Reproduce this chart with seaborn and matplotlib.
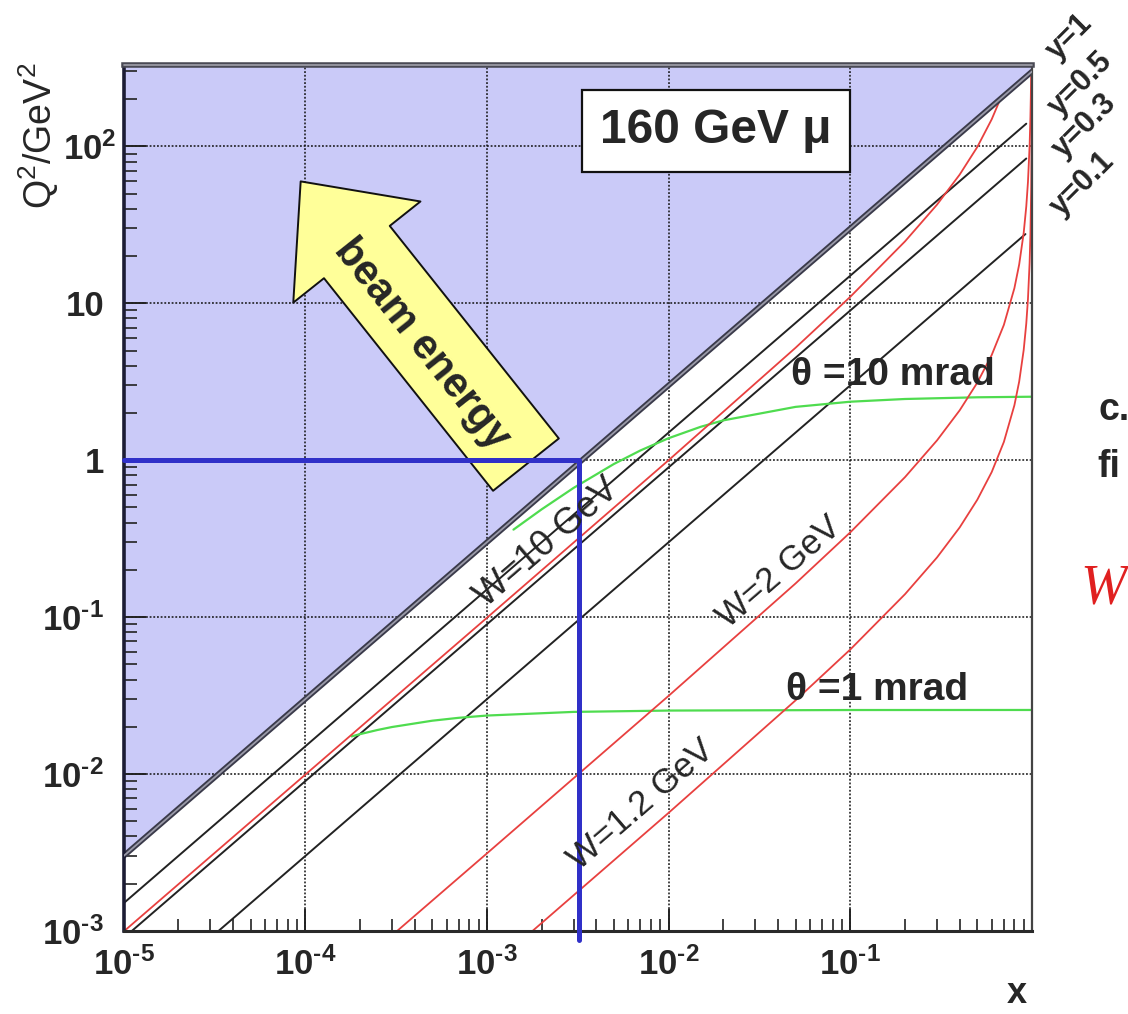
import numpy as np
import pandas as pd
import matplotlib
matplotlib.use("Agg")
import matplotlib.pyplot as plt
import seaborn as sns
from matplotlib.ticker import FixedLocator, FixedFormatter, LogLocator, NullFormatter
from matplotlib.transforms import ScaledTranslation

# ---------------- data ----------------
x_limits = [1e-5, 1.0]
q2_limits = [1e-3, 330]

# lines of constant inelasticity y
y1_x = [1e-5, 1.0]
y1_q2 = [3e-3, 300]
y05_x = [1e-5, 0.93]
y05_q2 = [1.5e-3, 139.5]
y03_x = [1e-5, 0.93]
y03_q2 = [9e-4, 83.7]
y01_x = [1e-5, 0.92]
y01_q2 = [3e-4, 27.6]

# lines of constant W
w10_x = [1e-5, 1e-3, 1e-2, 0.05, 0.1, 0.2, 0.3, 0.4, 0.5, 0.6, 0.67]
w10_q2 = [9.9e-4, 0.099, 1.0, 5.21, 11.0, 24.8, 42.5, 66.1, 99.1, 148.7, 201]
w2_x = [3e-4, 1e-3, 1e-2, 0.05, 0.1, 0.2, 0.3, 0.4, 0.5, 0.6, 0.7, 0.8, 0.85,
        0.9, 0.93, 0.95, 0.97, 0.98, 0.985, 0.9896]
w2_q2 = [9.36e-4, 3.12e-3, 0.0315, 0.164, 0.347, 0.78, 1.337, 2.08, 3.12, 4.68,
         7.28, 12.48, 17.68, 28.08, 41.45, 59.28, 100.9, 152.9, 204.9, 297]
w12_x = [1.5e-3, 1e-2, 0.05, 0.1, 0.2, 0.3, 0.4, 0.5, 0.6, 0.7, 0.8, 0.85, 0.9,
         0.93, 0.95, 0.97, 0.98, 0.99, 0.995, 0.9981]
w12_q2 = [8.41e-4, 5.66e-3, 0.0295, 0.0622, 0.14, 0.24, 0.373, 0.56, 0.84, 1.307,
          2.24, 3.17, 5.04, 7.44, 10.64, 18.1, 27.4, 55.4, 111.4, 294]

# lines of constant scattering angle
th10_x = [1.4e-3, 2e-3, 3e-3, 5e-3, 7e-3, 1e-2, 1.5e-2, 2e-2, 5e-2, 0.1, 0.2, 0.5, 1.0]
th10_q2 = [0.361, 0.486, 0.666, 0.946, 1.154, 1.381, 1.632, 1.794, 2.187, 2.359,
           2.455, 2.517, 2.538]
th1_x = [1.8e-4, 2e-4, 2.5e-4, 3e-4, 5e-4, 7e-4, 1e-3, 3e-3, 1e-2, 1e-1, 1.0]
th1_q2 = [0.01737, 0.01795, 0.01909, 0.01993, 0.02187, 0.02282, 0.02359, 0.02489,
          0.02538, 0.02558, 0.0256]

# blue guide at Q2 = 1
blue_x = [1e-5, 3.2e-3, 3.2e-3]
blue_q2 = [1.0, 1.0, 8.8e-4]

HY = "\u2010"  # short hyphen used in the exponents
x_ticks = [1e-5, 1e-4, 1e-3, 1e-2, 1e-1, 1.0]
x_ticklabels = ["$10^{%s5}$" % HY, "$10^{%s4}$" % HY, "$10^{%s3}$" % HY,
                "$10^{%s2}$" % HY, "$10^{%s1}$" % HY, ""]
y_ticks = [1e-3, 1e-2, 1e-1, 1.0, 10.0, 100.0]
y_ticklabels = ["$10^{%s3}$" % HY, "$10^{%s2}$" % HY, "$10^{%s1}$" % HY, "1", "10",
                "$10^{2}$"]

# ---------------- style ----------------
sns.set_theme(style="white")
plt.rcParams["font.family"] = ["Liberation Sans", "DejaVu Sans"]
plt.rcParams["mathtext.default"] = "regular"

fig = plt.figure(figsize=(11.28, 10.14), dpi=100)
fig.patch.set_facecolor("white")
ax = fig.add_axes([0.1095, 0.0819, 0.8054, 0.854])
ax.set_facecolor("white")
ax.set_xscale("log")
ax.set_yscale("log")
ax.set_xlim(*x_limits)
ax.set_ylim(*q2_limits)

# forbidden region above y=1
ax.fill_between(y1_x, y1_q2, q2_limits[1], color="#CACAF8", lw=0, zorder=0.1)

RED = "#E8403F"
GREEN = "#4FDC4F"

def draw(xs, ys, color, lw, z=2):
    sns.lineplot(x=xs, y=ys, ax=ax, color=color, lw=lw, sort=False,
                 estimator=None, zorder=z)

for xs, ys in [(y05_x, y05_q2), (y03_x, y03_q2), (y01_x, y01_q2)]:
    draw(xs, ys, "#222222", 1.4)
for xs, ys in [(w10_x, w10_q2), (w2_x, w2_q2), (w12_x, w12_q2)]:
    draw(xs, ys, RED, 1.3, z=2.2)
for xs, ys in [(th10_x, th10_q2), (th1_x, th1_q2)]:
    draw(xs, ys, GREEN, 1.6, z=2.1)
# y = 1 boundary: dark double line
draw(y1_x, y1_q2, "#3a3a4a", 4.0, z=2.5)
draw(y1_x, y1_q2, "#9a9aa8", 1.3, z=2.6)

# grid
ax.set_axisbelow(True)
ax.grid(True, which="major", color="#111111", linestyle=(0, (1.2, 1.2)), lw=1.1)
ax.grid(False, which="minor")

# ticks
ax.xaxis.set_major_locator(FixedLocator(x_ticks))
ax.xaxis.set_major_formatter(FixedFormatter(x_ticklabels))
ax.yaxis.set_major_locator(FixedLocator(y_ticks))
ax.yaxis.set_major_formatter(FixedFormatter(y_ticklabels))
ax.xaxis.set_minor_locator(LogLocator(base=10, subs=np.arange(2, 10), numticks=30))
ax.yaxis.set_minor_locator(LogLocator(base=10, subs=np.arange(2, 10), numticks=30))
ax.xaxis.set_minor_formatter(NullFormatter())
ax.yaxis.set_minor_formatter(NullFormatter())
ax.tick_params(which="major", direction="in", length=16, width=1.4, color="#222222",
               labelsize=25, top=False, right=False, bottom=True, left=True)
ax.tick_params(which="minor", direction="in", length=9, width=1.2, color="#222222",
               top=False, right=False, bottom=True, left=True)
ax.tick_params(axis="x", which="major", pad=12)
ax.tick_params(axis="y", which="major", pad=14)
for lab in ax.get_xticklabels() + ax.get_yticklabels():
    lab.set_fontweight("bold")
ylabs = ax.get_yticklabels()
ylabs[-1].set_transform(ylabs[-1].get_transform() +
                        ScaledTranslation(12 / 100, 0, fig.dpi_scale_trans))

# spines
for side, lw, col in [("left", 2.6, "#1c1c34"), ("bottom", 2.2, "#2a2a2a"),
                      ("right", 1.6, "#444444"), ("top", 4.0, "#4a4a55")]:
    ax.spines[side].set_visible(True)
    ax.spines[side].set_linewidth(lw)
    ax.spines[side].set_color(col)
ax.axhline(q2_limits[1], color="#a0a0aa", lw=1.2, zorder=6, clip_on=False)

# axis titles
ax.set_ylabel(r"Q$^{2}$/GeV$^{2}$", fontsize=27, loc="top")
ax.yaxis.set_label_coords(-0.069, 1.003)
ax.set_xlabel("x", fontsize=26, fontweight="bold")
ax.xaxis.set_label_coords(0.983, -0.052)

# beam energy arrow
ax.annotate("", xy=(9.44e-5, 59.8), xytext=(1.64e-3, 0.937),
            arrowprops=dict(arrowstyle="simple,head_length=6.5,head_width=11.7,tail_width=6.05",
                            mutation_scale=10, fc="#FFFF99", ec="#111111", lw=1.4,
                            shrinkA=0, shrinkB=0),
            zorder=3)
ax.text(4.38e-4, 5.46, "beam energy", fontsize=30, fontweight="bold", rotation=-51.5,
        rotation_mode="anchor", ha="center", va="center", zorder=5)

# blue guide
draw(blue_x, blue_q2, "#3030C8", 3.6, z=4)
ax.lines[-1].set_clip_on(False)

# beam label box
ax.text(0.652, 0.924, "160 GeV \u03bc", transform=ax.transAxes, fontsize=34.5,
        fontweight="bold", ha="center", va="center", zorder=6,
        bbox=dict(boxstyle="square,pad=0.38", fc="white", ec="#111111", lw=1.6))

# theta labels
ax.text(0.0473, 3.03, "\u03b8 =10 mrad", fontsize=28, fontweight="bold",
        ha="left", va="baseline", zorder=5)
ax.text(0.0443, 0.0297, "\u03b8 =1 mrad", fontsize=28, fontweight="bold",
        ha="left", va="baseline", zorder=5)

# W labels
W_ROT = 40.8
ax.text(2.14e-3, 0.298, "W=10 GeV", fontsize=26, rotation=W_ROT, rotation_mode="anchor",
        ha="center", va="center", zorder=5)
ax.text(0.0406, 0.192, "W=2 GeV", fontsize=25, rotation=W_ROT, rotation_mode="anchor",
        ha="center", va="center", zorder=5)
ax.text(7.05e-3, 6.37e-3, "W=1.2 GeV", fontsize=25, rotation=W_ROT, rotation_mode="anchor",
        ha="center", va="center", zorder=5)

# y labels outside the frame (figure pixel positions)
for label, px, py in [("y=1", 1062, 66), ("y=0.5", 1064, 122),
                      ("y=0.3", 1068, 164), ("y=0.1", 1066, 222)]:
    fig.text(px / 1128, 1 - py / 1014, label, fontsize=22, fontweight="bold",
             rotation=45, rotation_mode="anchor", ha="left", va="bottom")

# cut-off slide text at the right edge
fig.text(1098 / 1128, 1 - 420 / 1014, "c.", fontsize=27, fontweight="bold",
         ha="left", va="baseline")
fig.text(1097 / 1128, 1 - 477 / 1014, "fi", fontsize=27, fontweight="bold",
         ha="left", va="baseline")
fig.text(1080 / 1128, 1 - 603 / 1014, "W", fontsize=40, color="#E02020",
         family="Liberation Serif", style="italic", ha="left", va="baseline")

fig.savefig("out.png", dpi=100)
